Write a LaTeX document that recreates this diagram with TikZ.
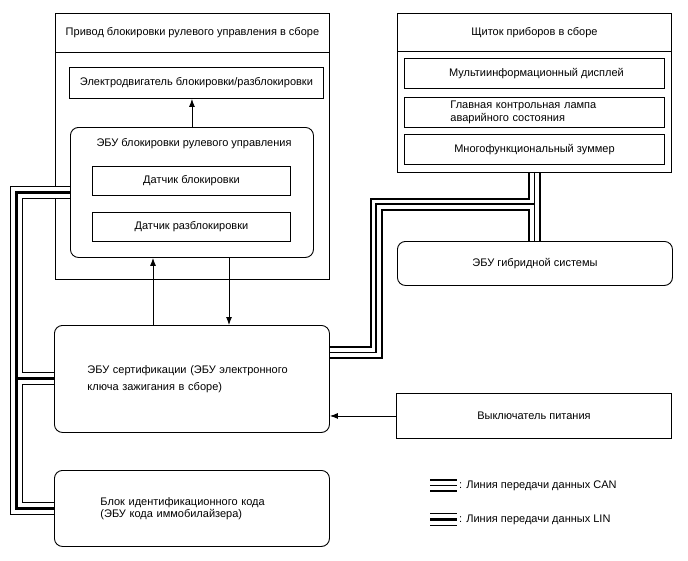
\documentclass[tikz,border=0pt]{standalone}
\usepackage{fontspec}
\setmainfont{Liberation Sans}
\usetikzlibrary{arrows.meta,backgrounds}
\begin{document}
\begin{tikzpicture}[x=1pt,y=-1pt,
  font=\fontsize{11}{12.5}\selectfont,
  box/.style={draw, line width=0.9pt, inner sep=0pt, anchor=north west},
  rbox/.style={box, rounded corners=8pt},
  arr/.style={line width=0.9pt, -{Latex[length=8pt,width=6pt]}},
  canA/.style={line width=13pt, draw=black},
  canB/.style={line width=9pt, draw=white},
  canC/.style={line width=1.5pt, draw=black},
  linA/.style={line width=13pt, draw=black},
  linB/.style={line width=11pt, draw=white},
  linC/.style={line width=3pt, draw=black},
  lgtext/.style={anchor=west, inner sep=0pt}
  ]
\useasboundingbox (0,0) rectangle (688,560);

% steering lock actuator assembly
\node[box, minimum width=274pt, minimum height=39pt] (privh) at (55,13) {Привод блокировки рулевого управления в сборе};
\node[box, minimum width=254pt, minimum height=31pt] (motor) at (69,67) {Электродвигатель блокировки/разблокировки};
\node[rbox, minimum width=243pt, minimum height=130pt] (lock) at (70,127) {};
\node[anchor=center, inner sep=0pt] (locktitle) at (194,144) {ЭБУ блокировки рулевого управления};
\node[box, minimum width=198pt, minimum height=29pt] (s1) at (92,166) {Датчик блокировки};
\node[box, minimum width=198pt, minimum height=29pt] (s2) at (92,212) {Датчик разблокировки};

% instrument panel
\node[box, minimum width=274pt, minimum height=38pt] (panelh) at (397,13) {Щиток приборов в сборе};
\node[box, minimum width=274pt, minimum height=159pt] (panel) at (397,13) {};
\node[box, minimum width=260pt, minimum height=30pt] (m1) at (404,58) {\hspace{4pt}Мультиинформационный дисплей};
\node[box, minimum width=260pt, minimum height=30pt, inner xsep=46pt, text width=168pt, align=left] (m2) at (404,97) {Главная контрольная лампа\\аварийного состояния};
\node[box, minimum width=260pt, minimum height=30pt] (m3) at (404,134) {Многофункциональный зуммер};

% hybrid ECU
\node[rbox, minimum width=275pt, minimum height=44pt] (hyb) at (397,241) {ЭБУ гибридной системы};

% certification ECU
\node[rbox, minimum width=275pt, minimum height=107pt, inner xsep=33pt, text width=209pt, align=left] (cert) at (54,325) {ЭБУ сертификации (ЭБУ электронного\\[5pt]ключа зажигания в сборе)};

% power switch
\node[box, minimum width=275pt, minimum height=45pt] (pwr) at (396,393) {Выключатель питания};

% immobiliser
\node[rbox, minimum width=275pt, minimum height=76pt, inner xsep=46pt, text width=183pt, align=left] (immo) at (54,470) {Блок идентификационного кода\\(ЭБУ кода иммобилайзера)};

% arrows
\draw[arr] (lock.north) -- (lock.north |- motor.south);
\coordinate (a1) at ([xshift=99pt]cert.north west);
\coordinate (a2) at ([xshift=175pt]cert.north west);
\draw[arr] (a1) -- (a1 |- lock.south);
\draw[arr] (a2 |- lock.south) -- (a2);
\draw[arr] (pwr.west) -- (pwr.west -| cert.east);

% legend
\coordinate (lg1a) at (430,485.5);
\coordinate (lg1b) at (457,485.5);
\coordinate (lg2a) at (430,519.5);
\coordinate (lg2b) at (457,519.5);
\draw[canA] (lg1a) -- (lg1b);
\draw[canB] (lg1a) -- (lg1b);
\draw[canC] (lg1a) -- (lg1b);
\draw[linA] (lg2a) -- (lg2b);
\draw[linB] (lg2a) -- (lg2b);
\draw[linC] (lg2a) -- (lg2b);
\node[lgtext] (lgt1) at (459,485.5) {: Линия передачи данных CAN};
\node[lgtext] (lgt2) at (459,519.5) {: Линия передачи данных LIN};

\begin{pgfonlayer}{background}
\node[box, minimum width=274pt, minimum height=266pt] (priv) at (55,13) {};
% bus coordinates
\coordinate (lb) at (16,0);
\coordinate (ce) at ([yshift=26.5pt]cert.east);
\coordinate (cx) at (376,204);
% LIN bus
\draw[linA] (lock.west) -- (lock.west -| lb) -- (immo.west -| lb) -- (immo.west);
\draw[linA] (cert.west -| lb) -- (cert.west);
\draw[linB] (lock.west) -- (lock.west -| lb) -- (immo.west -| lb) -- (immo.west);
\draw[linB] (cert.west -| lb) -- (cert.west);
\draw[linC] (lock.west) -- (lock.west -| lb) -- (immo.west -| lb) -- (immo.west);
\draw[linC] (cert.west -| lb) -- (cert.west);
% CAN bus
\draw[canA] (ce) -- (ce -| cx) -- (cx) -- (cx -| panel.south);
\draw[canA] (panel.south) -- (panel.south |- hyb.north);
\draw[canB] (ce) -- (ce -| cx) -- (cx) -- (cx -| panel.south);
\draw[canB] (panel.south) -- (panel.south |- hyb.north);
\draw[canC] (ce) -- (ce -| cx) -- (cx) -- (cx -| panel.south);
\draw[canC] (panel.south) -- (panel.south |- hyb.north);
\end{pgfonlayer}
\end{tikzpicture}
\end{document}
